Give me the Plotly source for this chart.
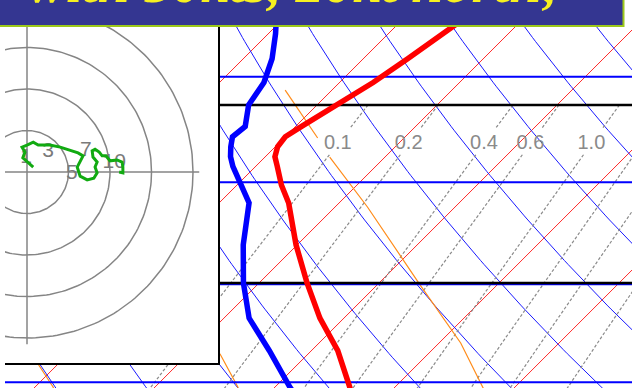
import numpy as np
import plotly.graph_objects as go

# ---------------- sounding (pressure hPa, temperature / dew point in degC) ----------------
pres = [385, 380, 350, 325, 300, 275, 250, 240, 230, 225, 220, 215, 210, 200, 190, 180, 170, 160, 150]
temp = [-33.2, -33.8, -37.8, -42.0, -46.0, -50.1, -54.2, -56.3, -58.2, -59.2, -59.8, -60.0, -59.5,
        -58.3, -57.2, -56.3, -55.5, -54.6, -53.6]
dewp = [-38.0, -38.8, -43.5, -47.9, -51.3, -54.5, -57.5, -59.7, -61.9, -62.9, -63.7, -64.4, -64.2,
        -65.7, -66.3, -67.6, -69.4, -71.5, -73.7]

# moist adiabats (pressure hPa, temperature degC)
moist_a_p = [193.3, 215.6, None, 225.2, 252.3, 301.4, 343.9, 380.2, 392.0]
moist_a_t = [-63.9, -57.2, None, -54.6, -47.3, -36.4, -28.2, -22.7, -21.0]
moist_b_p = [300.0, 353.5, 380.2, 392.0]
moist_b_t = [-57.2, -47.2, -43.1, -41.6]
moist_c_p = [300.0, 360.0, 380.2, 392.0]
moist_c_t = [-72.0, -61.8, -58.5, -56.8]

# diagram background
isotherms = list(range(-120, 11, 10))          # degC
dry_adiabats = list(range(0, 151, 10))         # potential temperature, degC
mixing_ratios = [0.1, 0.2, 0.4, 0.6, 1.0, 1.5, 2.0, 3.0]   # g/kg
mixing_labels = ["0.1", "0.2", "0.4", "0.6", "1.0", "1.5"]
height_lines_ft = [25000, 30000, 35000, 40000]
isobars = [200, 300]

# ---------------- hodograph (knots) ----------------
hodo_u = [1.5, 0.2, -1.0, -0.5, -1.2, 0.0, 1.5, 2.7, 5.5, 8.0, 9.9, 12.3, 13.5, 12.8, 12.1, 12.8,
          14.5, 16.1, 16.9, 16.4, 16.9, 15.9, 15.7, 16.4, 17.4, 18.1, 19.0, 20.0, 21.7, 22.9, 23.1,
          23.1, 22.2]
hodo_v = [1.2, 2.4, 3.4, 4.8, 6.0, 6.5, 7.2, 6.5, 6.5, 6.0, 5.3, 4.6, 3.9, 2.7, 1.2, -1.0, -1.9,
          -1.5, -0.2, 1.2, 2.4, 3.6, 5.1, 5.5, 4.8, 3.9, 3.9, 2.7, 2.9, 2.4, 1.2, -0.2, 0.0]
hodo_labels = ["1", "3", "5", "7", "10"]
hodo_label_u = [-0.2, 5.1, 10.8, 14.2, 21.0]
hodo_label_v = [3.4, 4.8, -0.5, 5.1, 2.2]
hodo_rings = [10, 20, 30, 40]
hodo_axis_len = 41.5

TITLE = "with 50kts, 20kt north;"

# ---------------- skew-T geometry ----------------
P_REF = 300.0
SKEW = 36.58                      # degC of skew per unit ln(p)
X_LEFT, X_RIGHT = -71.17, -18.92  # skewed temperature axis limits
P_TOP, P_BOT = 157.45, 381.06
PGRID = np.geomspace(140, 420, 120)


def skew_x(t, p):
    t = np.asarray(t, dtype=float)
    p = np.asarray(p, dtype=float)
    return t + SKEW * np.log(P_REF / p)


def with_none(arr):
    return [np.nan if v is None else v for v in arr]


def std_pressure(ft):
    z = ft * 0.3048
    if z <= 11000:
        return 1013.25 * (1 - 2.25577e-5 * z) ** 5.25588
    return 226.32 * np.exp(-(z - 11000) / 6341.6)


def mix_temp(w, p):
    e = w * p / (622.0 + w)
    a = np.log(e / 6.112)
    return 243.5 * a / (17.67 - a)


def joined(segments):
    xs, ys = [], []
    for x, y in segments:
        xs += list(x) + [None]
        ys += list(y) + [None]
    return xs, ys


fig = go.Figure()

# isotherms
segs = [(skew_x(np.full_like(PGRID, t), PGRID), PGRID) for t in isotherms]
xs, ys = joined(segs)
fig.add_trace(go.Scatter(x=xs, y=ys, mode="lines", line=dict(color="#ff2a2a", width=1),
                         hoverinfo="skip", showlegend=False))

# dry adiabats
segs = []
for th in dry_adiabats:
    t = (th + 273.15) * (PGRID / 1000.0) ** 0.2857 - 273.15
    segs.append((skew_x(t, PGRID), PGRID))
xs, ys = joined(segs)
fig.add_trace(go.Scatter(x=xs, y=ys, mode="lines", line=dict(color="#1a1aff", width=1),
                         hoverinfo="skip", showlegend=False))

# saturation mixing-ratio lines, broken where their labels sit
MIX_TOP, GAP_TOP, GAP_BOT, LABEL_P = 200.0, 211.0, 224.0, 218.5
upper = np.geomspace(MIX_TOP, GAP_TOP, 10)
lower = np.geomspace(GAP_BOT, 420, 60)
segs = []
for w in mixing_ratios:
    segs.append((skew_x(mix_temp(w, upper), upper), upper))
    segs.append((skew_x(mix_temp(w, lower), lower), lower))
xs, ys = joined(segs)
fig.add_trace(go.Scatter(x=xs, y=ys, mode="lines",
                         line=dict(color="#8a8a8a", width=1.2, dash="3px,2px"),
                         hoverinfo="skip", showlegend=False))
lab_w = mixing_ratios[:len(mixing_labels)]
fig.add_trace(go.Scatter(x=[float(skew_x(mix_temp(w, LABEL_P), LABEL_P)) for w in lab_w],
                         y=[LABEL_P] * len(lab_w), mode="text", text=mixing_labels,
                         textfont=dict(family="Liberation Sans", size=20, color="#8a8a8a"),
                         cliponaxis=False, hoverinfo="skip", showlegend=False))

# moist adiabats
for mp, mt in [(moist_a_p, moist_a_t), (moist_b_p, moist_b_t), (moist_c_p, moist_c_t)]:
    p = np.array(with_none(mp), dtype=float)
    t = np.array(with_none(mt), dtype=float)
    x = skew_x(t, p)
    fig.add_trace(go.Scatter(x=[None if np.isnan(v) else v for v in x],
                             y=[None if np.isnan(v) else v for v in p], mode="lines",
                             line=dict(color="#ff8c1a", width=1.2), connectgaps=False,
                             hoverinfo="skip", showlegend=False))

# height lines (blue) and isobars (black)
segs = []
for ft in height_lines_ft:
    p = std_pressure(ft)
    segs.append(([X_LEFT - 5, X_RIGHT + 5], [p, p]))
xs, ys = joined(segs)
fig.add_trace(go.Scatter(x=xs, y=ys, mode="lines", line=dict(color="#0000ff", width=2),
                         hoverinfo="skip", showlegend=False))
segs = [([X_LEFT - 5, X_RIGHT + 5], [p, p]) for p in isobars]
xs, ys = joined(segs)
fig.add_trace(go.Scatter(x=xs, y=ys, mode="lines", line=dict(color="#000000", width=2.5),
                         hoverinfo="skip", showlegend=False))

# dew point and temperature profiles
fig.add_trace(go.Scatter(x=skew_x(dewp, pres), y=pres, mode="lines",
                         line=dict(color="#0000ff", width=5.5), hoverinfo="skip", showlegend=False))
fig.add_trace(go.Scatter(x=skew_x(temp, pres), y=pres, mode="lines",
                         line=dict(color="#ff0000", width=5.5), hoverinfo="skip", showlegend=False))

# ---------------- hodograph inset ----------------
ang = np.linspace(0, 2 * np.pi, 241)
segs = [(r * np.cos(ang), r * np.sin(ang)) for r in hodo_rings]
segs.append(([-60, hodo_axis_len], [0, 0]))
segs.append(([0, 0], [-hodo_axis_len, 60]))
xs, ys = joined(segs)
fig.add_trace(go.Scatter(x=xs, y=ys, xaxis="x2", yaxis="y2", mode="lines",
                         line=dict(color="#858585", width=1.5), hoverinfo="skip", showlegend=False))
fig.add_trace(go.Scatter(x=hodo_label_u, y=hodo_label_v, xaxis="x2", yaxis="y2", mode="text",
                         text=hodo_labels,
                         textfont=dict(family="Liberation Sans", size=21, color="#7a7a7a"),
                         hoverinfo="skip", showlegend=False))
fig.add_trace(go.Scatter(x=hodo_u, y=hodo_v, xaxis="x2", yaxis="y2", mode="lines",
                         line=dict(color="#11aa11", width=3), hoverinfo="skip", showlegend=False))

W, H = 632, 388
hidden = dict(showgrid=False, zeroline=False, showticklabels=False, ticks="")
fig.update_layout(
    width=W, height=H, margin=dict(l=0, r=0, t=0, b=0),
    paper_bgcolor="white", plot_bgcolor="white", showlegend=False,
    xaxis=dict(domain=[5 / W, 1], range=[X_LEFT, X_RIGHT], visible=False),
    yaxis=dict(type="log", range=[np.log10(P_BOT), np.log10(P_TOP)], domain=[0, 1], visible=False),
    xaxis2=dict(domain=[5 / W, 218 / W], range=[-5.30, 46.02], anchor="y2",
                showline=True, linecolor="black", linewidth=2, **hidden),
    yaxis2=dict(domain=[25 / H, 1], range=[-46.02, 41.45], anchor="x2", side="right",
                showline=True, linecolor="black", linewidth=2, **hidden),
)

# title banner
fig.add_shape(type="rect", xref="paper", yref="paper", x0=-0.01, x1=624.5 / W,
              y0=1 - 27 / H, y1=1.05, fillcolor="#9cc81a", line=dict(width=0), layer="above")
fig.add_shape(type="rect", xref="paper", yref="paper", x0=-0.01, x1=622.5 / W,
              y0=1 - 25 / H, y1=1.05, fillcolor="#343691", line=dict(width=0), layer="above")
fig.add_annotation(text="<b><i>" + TITLE + "</i></b>", xref="paper", yref="paper",
                   x=26 / W, y=1 + 17 / H, xanchor="left", yanchor="middle", showarrow=False,
                   font=dict(family="Liberation Serif", size=57, color="#f6f020"))

fig.write_html("out.html")
